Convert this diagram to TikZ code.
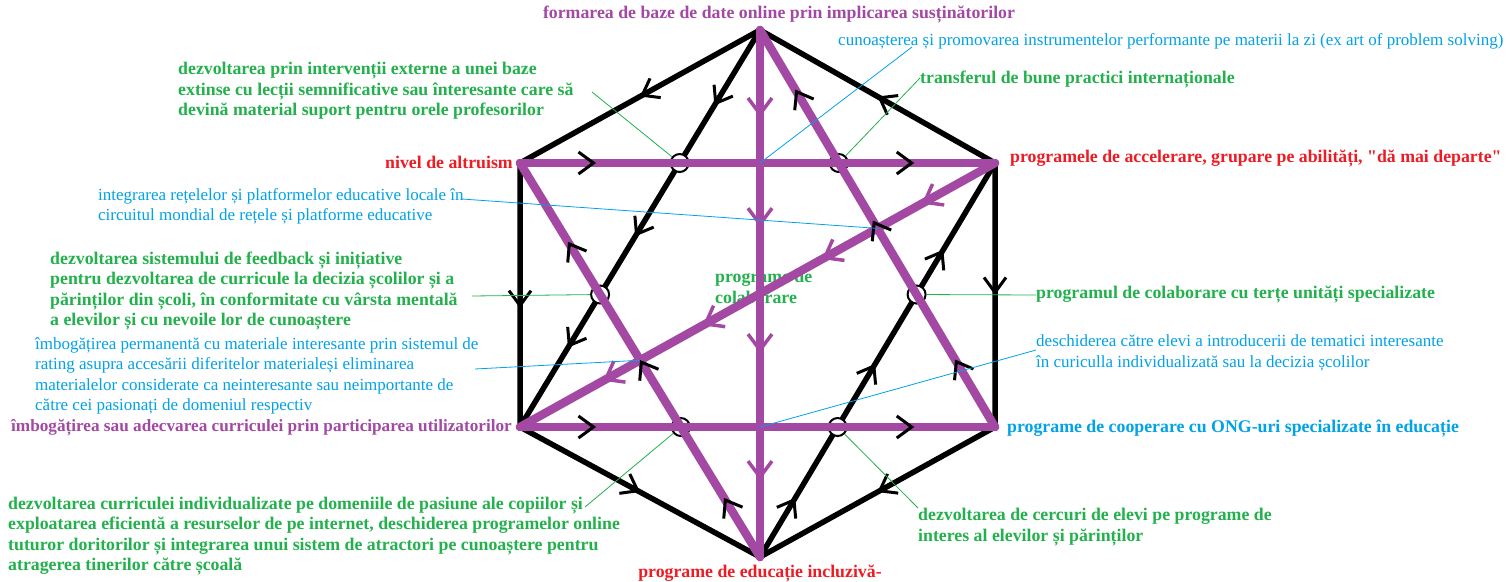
\documentclass[tikz,border=0pt]{standalone}
\usepackage{fontspec}
\setmainfont{Liberation Serif}
\usetikzlibrary{arrows.meta,calc,positioning}

\definecolor{mov}{HTML}{A349A4}
\definecolor{rosu}{HTML}{ED1C24}
\definecolor{albastru}{HTML}{00A2E8}
\definecolor{verde}{HTML}{22B14C}

\tikzset{
	linie/.style={line width=5.5pt,line cap=round,line join=round},
	linmov/.style={mov,line width=8.5pt,line cap=round},
	cerc/.style={draw,fill=white,line width=2pt,circle,inner sep=0pt,minimum size=18pt},
	eticheta/.style={inner sep=0pt,align=left,font=\fontsize{17}{20.3}\selectfont},
	gras/.style={eticheta,font=\fontsize{17.8}{20.5}\selectfont\bfseries},
	ghid/.style={line width=0.8pt},
	varf/.style={line width=0.1pt,-{Straight Barb[length=15pt,width=22pt,line width=3pt]}},
	varfmov/.style={varf,mov,-{Straight Barb[length=16pt,width=24pt,line width=3.5pt]}}
}

\begin{document}
\begin{tikzpicture}[x=1pt,y=-1pt]
	\fill[white] (0,0) rectangle (1512,581);
	\useasboundingbox (0,0) rectangle (1512,581);

	% varfurile hexagonului
	\coordinate (T) at (760,30);
	\coordinate (UL) at (520,163);
	\coordinate (UR) at (995,163);
	\coordinate (LL) at (520,427);
	\coordinate (LR) at (995,427);
	\coordinate (B) at (760,557);

	% intersectii
	\coordinate (Xs1) at (intersection of T--LL and UL--UR);
	\coordinate (Xs2) at (intersection of T--LR and UL--UR);
	\coordinate (Xj1) at (intersection of UL--B and LL--LR);
	\coordinate (Xj2) at (intersection of B--UR and LL--LR);
	\coordinate (Xst) at (intersection of T--LL and UL--B);
	\coordinate (Xdr) at (intersection of T--LR and B--UR);
	\coordinate (Xvs) at (760,163);
	\coordinate (Xvj) at (760,427);
	\coordinate (Xd1) at (intersection of UR--LL and T--LR);
	\coordinate (Xd2) at (intersection of UR--LL and UL--B);

	% texte
	\node[gras,mov] (formare) at (779,15) {formarea de baze de date online prin implicarea susținătorilor};
	\node[eticheta,albastru,anchor=west] (cunoastere) at (838,41) {cunoașterea și promovarea instrumentelor performante pe materii la zi (ex art of problem solving)};
	\node[gras,verde,anchor=west] (transfer) at (920,80) {transferul de bune practici internaționale};
	\node[gras,verde,anchor=west] (interventii) at (178,91) {dezvoltarea prin intervenții externe a unei baze\\extinse cu lecții semnificative sau înteresante care să\\devină material suport pentru orele profesorilor};
	\node[gras,rosu,anchor=east] (altruism) at (513,162) {nivel de altruism};
	\node[gras,rosu,anchor=west] (accelerare) at (1010,158) {programele de accelerare, grupare pe abilități, \textquotedbl dă mai departe\textquotedbl};
	\node[eticheta,albastru,anchor=west] (integrare) at (98,206.5) {integrarea rețelelor și platformelor educative locale în\\circuitul mondial de rețele și platforme educative};
	\node[gras,verde,anchor=west] (feedback) at (50,291) {dezvoltarea sistemului de feedback și inițiative\\pentru dezvoltarea de curricule la decizia școlilor și a\\părinților din școli, în conformitate cu vârsta mentală\\a elevilor și cu nevoile lor de cunoaștere};
	\node[eticheta,albastru,anchor=west] (rating) at (35,376) {îmbogățirea permanentă cu materiale interesante prin sistemul de\\rating asupra accesării diferitelor materialeși eliminarea\\materialelor considerate ca neinteresante sau neimportante de\\către cei pasionați de domeniul respectiv};
	\node[gras,mov,anchor=east,font=\fontsize{17.2}{20.5}\selectfont\bfseries] (utilizatori) at (512,428) {îmbogățirea sau adecvarea curriculei prin participarea utilizatorilor};
	\node[gras,albastru,anchor=west] (ong) at (1007,428) {programe de cooperare cu ONG-uri specializate în educație};
	\node[eticheta,albastru,anchor=west] (tematici) at (1036,353) {deschiderea către elevi a introducerii de tematici interesante\\în curiculla individualizată sau la decizia școlilor};
	\node[gras,verde,anchor=west] (terte) at (1036,294) {programul de colaborare cu terțe unități specializate};
	\node[gras,verde,anchor=west] (colaborare) at (715,287) {programe de\\colaborare};
	\node[gras,verde,anchor=west] (pasiune) at (8,536) {dezvoltarea curriculei individualizate pe domeniile de pasiune ale copiilor și\\exploatarea eficientă a resurselor de pe internet, deschiderea programelor online\\tuturor doritorilor și integrarea unui sistem de atractori pe cunoaștere pentru\\atragerea tinerilor către școală};
	\node[gras,verde,anchor=west] (cercuri) at (918,527) {dezvoltarea de cercuri de elevi pe programe de\\interes al elevilor și părinților};
	\node[gras,rosu] (incluziva) at (760,573) {programe de educație incluzivă-};

	% liniile negre
	\draw[linie] (T) -- (UR) -- (LR) -- (B) -- (LL) -- (UL) -- cycle;
	\draw[linie] (T) -- (LL);
	\draw[linie] (B) -- (UR);

	% cercuri
	\foreach \c/\n in {Xs1/c1, Xs2/c2, Xj1/c3, Xj2/c4, Xst/c5, Xdr/c6}
		\node[cerc] (\n) at (\c) {};

	% liniile mov
	\draw[linmov] (UL) -- (UR);
	\draw[linmov] (LL) -- (LR);
	\draw[linmov] (T) -- (B);
	\draw[linmov] (UR) -- (LL);
	\draw[linmov] (T) -- (LR);
	\draw[linmov] (UL) -- (B);

	% sageti negre
	\foreach \a/\b/\p in {UR/T/0.5, T/UL/0.5, UL/LL/0.55, LL/B/0.5, LR/B/0.5, UR/LR/0.5,
			T/LL/0.19, T/LL/0.52, T/LL/0.8, B/UR/0.15, B/UR/0.49, B/UR/0.78,
			LR/T/0.17, LR/T/0.52, LR/T/0.85, B/UL/0.15, B/UL/0.5, B/UL/0.8,
			UL/UR/0.16, UL/UR/0.83, LL/LR/0.16, LL/LR/0.83} {
			\pgfmathsetmacro{\q}{\p-0.01}
			\draw[varf] ($(\a)!\q!(\b)$) -- ($(\a)!\p!(\b)$);
		}

	% sageti mov
	\foreach \a/\b/\p in {T/B/0.165, T/B/0.374, T/B/0.613, T/B/0.854,
			UR/LL/0.154, UR/LL/0.364, UR/LL/0.615, UR/LL/0.825} {
			\pgfmathsetmacro{\q}{\p-0.01}
			\draw[varfmov] ($(\a)!\q!(\b)$) -- ($(\a)!\p!(\b)$);
		}

	% capetele liniilor de legatura
	\coordinate (gcun) at (912,47);
	\coordinate (gtra) at (920,78);
	\coordinate (gint) at (592,92);
	\coordinate (gret) at (462,199);
	\coordinate (gfee) at (472,296);
	\coordinate (grat) at (475,369);
	\coordinate (gter) at (1036,295);
	\coordinate (gtem) at (1036,350);
	\coordinate (gpas) at (585,507);
	\coordinate (gcer) at (918,508);

	% linii de legatura
	\draw[ghid,albastru] (Xvs) -- (gcun);
	\draw[ghid,verde] (c2) -- (gtra);
	\draw[ghid,verde] (c1) -- (gint);
	\draw[ghid,albastru] (Xd1) -- (gret);
	\draw[ghid,verde] (c5) -- (gfee);
	\draw[ghid,albastru] (Xd2) -- (grat);
	\draw[ghid,verde] (c6) -- (gter);
	\draw[ghid,albastru] (Xvj) -- (gtem);
	\draw[ghid,verde] (c3) -- (gpas);
	\draw[ghid,verde] (c4) -- (gcer);
\end{tikzpicture}
\end{document}
